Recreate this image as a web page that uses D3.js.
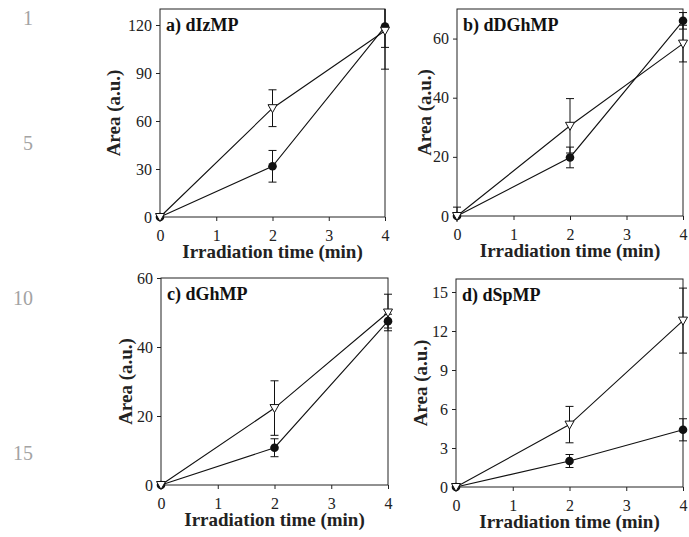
<!DOCTYPE html>
<html>
<head>
<meta charset="utf-8">
<script src="https://cdn.jsdelivr.net/npm/d3@7"></script>
<style>
  body { margin: 0; background: #fff; }
  svg { display: block; }
  text { font-family: "Liberation Serif", "Times New Roman", serif !important; }
</style>
</head>
<body>
<svg id="svg" width="689" height="537"></svg>
<script>
// data
const times = [0, 2, 4];
const xTicks = [0, 1, 2, 3, 4];
const panelTitles = ["a) dIzMP", "b) dDGhMP", "c) dGhMP", "d) dSpMP"];
const yMax = [130, 70, 60, 16];
const yTicks = [[0, 30, 60, 90, 120], [0, 20, 40, 60], [0, 20, 40, 60], [0, 3, 6, 9, 12, 15]];
const circleValues = [[0, 31.7, 119], [0, 19.8, 66], [0, 10.8, 47.5], [0, 2.0, 4.4]];
const circleErrors = [[0, 9.9, 13], [0, 3.5, 2.8], [0, 2.6, 2], [0, 0.5, 0.85]];
const triangleValues = [[0, 68, 116.4], [0, 30.5, 58.3], [0, 22.3, 50], [0, 4.8, 12.8]];
const triangleErrors = [[0, 11.5, 24], [3, 9.2, 6.2], [0, 7.9, 5.3], [0, 1.4, 2.5]];
const lineNumbers = ["1", "5", "10", "15"];

// layout of the four frames
const frames = [
  {left: 160, right: 385, top: 9, bottom: 217, labelX: 120},
  {left: 457, right: 683, top: 9, bottom: 216, labelX: 431},
  {left: 161, right: 388, top: 278, bottom: 485, labelX: 132},
  {left: 456, right: 683, top: 279, bottom: 487, labelX: 427}
];
const lineNumberY = [25, 150, 305, 460];

const svg = d3.select("svg#svg");

// margin line numbers
svg.selectAll("text.lineno").data(lineNumbers).enter()
  .append("text").attr("class", "lineno")
  .attr("x", 33).attr("y", (d, i) => lineNumberY[i])
  .attr("text-anchor", "end").attr("font-size", 20).attr("fill", "#a3a3a3")
  .text(d => d);

const triPath = "M-4.5,-3.5L4.5,-3.5L0,4.5Z";

frames.forEach((f, p) => {
  const x = d3.scaleLinear().domain([0, 4]).range([f.left, f.right]);
  const y = d3.scaleLinear().domain([0, yMax[p]]).range([f.bottom, f.top]);
  const g = svg.append("g");

  const clipId = "clip" + p;
  svg.append("clipPath").attr("id", clipId).append("rect")
    .attr("x", f.left - 6).attr("y", f.top)
    .attr("width", f.right - f.left + 12).attr("height", f.bottom - f.top + 6);

  // axes
  const ya = g.append("g").attr("transform", `translate(${f.left},0)`)
    .call(d3.axisLeft(y).tickValues(yTicks[p]).tickFormat(d3.format("d")).tickSize(4).tickPadding(4));
  const xa = g.append("g").attr("transform", `translate(0,${f.bottom})`)
    .call(d3.axisBottom(x).tickValues(xTicks).tickFormat(d3.format("d")).tickSize(4).tickPadding(9));
  [ya, xa].forEach(a => {
    a.select(".domain").remove();
    a.selectAll("text").attr("font-size", 16).attr("fill", "#222");
    a.selectAll("line").attr("stroke", "#222");
  });

  g.append("rect")
    .attr("x", f.left).attr("y", f.top)
    .attr("width", f.right - f.left).attr("height", f.bottom - f.top)
    .attr("fill", "none").attr("stroke", "#222").attr("stroke-width", 1);

  // axis titles
  g.append("text")
    .attr("x", (f.left + f.right) / 2).attr("y", f.bottom + 41)
    .attr("text-anchor", "middle").attr("font-size", 19).attr("font-weight", "bold")
    .attr("fill", "#222").text("Irradiation time (min)");
  g.append("text")
    .attr("transform", `translate(${f.labelX},${(f.top + f.bottom) / 2}) rotate(-90)`)
    .attr("text-anchor", "middle").attr("font-size", 19).attr("font-weight", "bold")
    .attr("fill", "#222").text("Area (a.u.)");

  g.append("text")
    .attr("x", f.left + 6).attr("y", f.top + 22)
    .attr("font-size", 18).attr("font-weight", "bold").attr("fill", "#111")
    .text(panelTitles[p]);

  const plot = g.append("g").attr("clip-path", `url(#${clipId})`);
  const series = [
    {vals: circleValues[p], errs: circleErrors[p], kind: "dot"},
    {vals: triangleValues[p], errs: triangleErrors[p], kind: "tri"}
  ];
  const line = d3.line().x((d, i) => x(times[i])).y(d => y(d));

  series.forEach(s => {
    plot.append("path").attr("d", line(s.vals))
      .attr("fill", "none").attr("stroke", "#111").attr("stroke-width", 1.1);
  });

  series.forEach(s => {
    const bars = s.vals.map((v, i) => ({t: times[i], v: v, e: s.errs[i]})).filter(d => d.e > 0);
    const eb = plot.selectAll(null).data(bars).enter().append("g");
    eb.append("line")
      .attr("x1", d => x(d.t)).attr("x2", d => x(d.t))
      .attr("y1", d => y(d.v - d.e)).attr("y2", d => y(d.v + d.e))
      .attr("stroke", "#111");
    [-1, 1].forEach(sign => {
      eb.append("line")
        .attr("x1", d => x(d.t) - 4).attr("x2", d => x(d.t) + 4)
        .attr("y1", d => y(d.v + sign * d.e)).attr("y2", d => y(d.v + sign * d.e))
        .attr("stroke", "#111");
    });
  });

  // markers: dots first, open triangles on top
  series.forEach(s => {
    const pts = s.vals.map((v, i) => ({t: times[i], v: v}));
    if (s.kind === "dot") {
      plot.selectAll(null).data(pts).enter().append("circle")
        .attr("cx", d => x(d.t)).attr("cy", d => y(d.v)).attr("r", 4.3)
        .attr("fill", "#111");
    } else {
      plot.selectAll(null).data(pts).enter().append("path")
        .attr("d", triPath)
        .attr("transform", d => `translate(${x(d.t)},${y(d.v)})`)
        .attr("fill", "#fff").attr("stroke", "#111").attr("stroke-width", 1);
    }
  });
});
</script>
</body>
</html>
